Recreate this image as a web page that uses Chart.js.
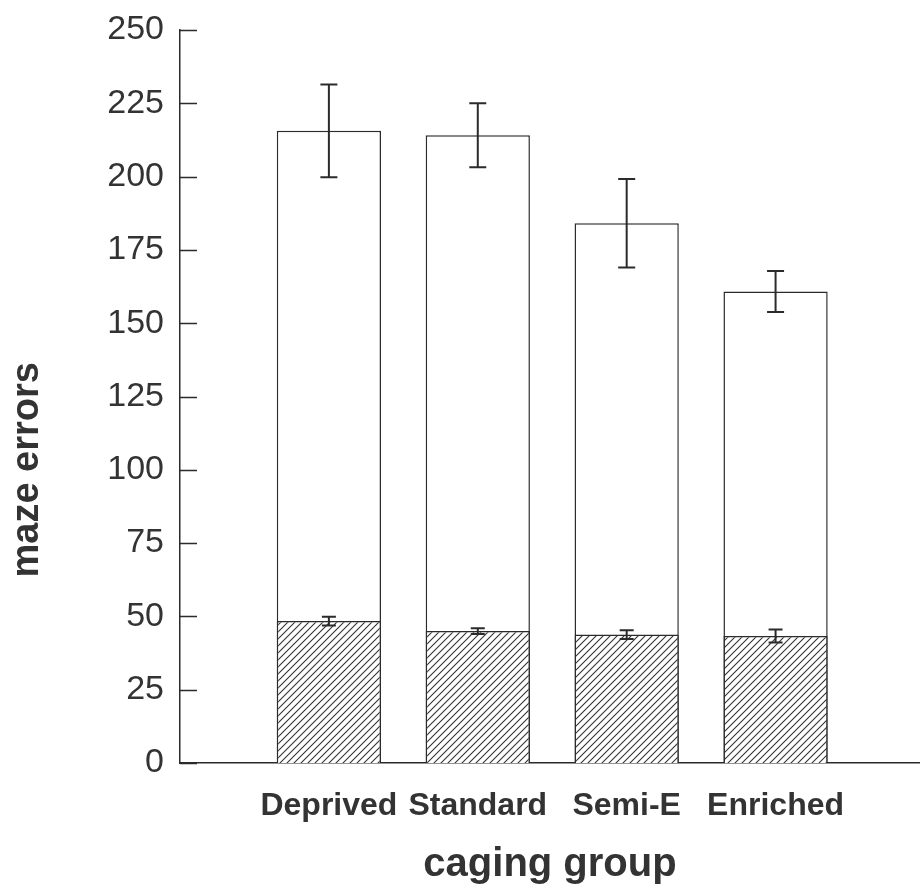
<!DOCTYPE html>
<html>
<head>
<meta charset="utf-8">
<script src="https://cdn.jsdelivr.net/npm/chart.js@4.4.1/dist/chart.umd.min.js"></script>
<style>
  html, body { margin: 0; padding: 0; background: #fff; }
  #wrap { width: 920px; height: 891px; position: relative; }
</style>
</head>
<body>
<div id="wrap"><canvas id="c" width="920" height="891"></canvas></div>
<script>
// Caging groups along the x axis
const groups = ['Deprived', 'Standard', 'Semi-E', 'Enriched'];
// Total maze errors per group (open bars) and their error-bar half widths
const totalErrors = [215.6, 214.1, 184.1, 160.8];
const totalSem = [15.8, 10.9, 15.1, 7.0];
// Hatched portion of the errors per group and its error-bar half widths
const hatchedErrors = [48.4, 45.0, 43.8, 43.3];
const hatchedSem = [1.5, 1.0, 1.5, 2.2];
// Y axis range and step
const yMin = 0, yMax = 250, yStep = 25;
const yTitle = 'maze errors';
const xTitle = 'caging group';

const ink = '#2b2b2b';
const textInk = '#333333';
const fontFamily = 'Liberation Sans, Arial, sans-serif';

// Diagonal hatch fill
function makeHatch() {
  const s = 7;
  const p = document.createElement('canvas');
  p.width = s; p.height = s;
  const g = p.getContext('2d');
  g.fillStyle = '#ffffff';
  g.fillRect(0, 0, s, s);
  g.strokeStyle = '#333333';
  g.lineWidth = 1.1;
  g.beginPath();
  g.moveTo(-1, s + 1); g.lineTo(s + 1, -1);
  g.moveTo(-1, 1); g.lineTo(1, -1);
  g.moveTo(s - 1, s + 1); g.lineTo(s + 1, s - 1);
  g.stroke();
  return g.createPattern(p, 'repeat');
}

const pts = (vals) => vals.map((v, i) => ({ x: i + 1, y: v }));

// Error bars with caps, drawn over the bars
const errorBars = {
  id: 'errorBars',
  afterDatasetsDraw(chart) {
    const ctx = chart.ctx;
    const ys = chart.scales.y;
    ctx.save();
    ctx.strokeStyle = ink;
    ctx.lineWidth = 2;
    chart.data.datasets.forEach((ds, di) => {
      const meta = chart.getDatasetMeta(di);
      meta.data.forEach((bar, i) => {
        const v = ds.data[i].y;
        const e = ds.errors[i];
        const x = bar.x;
        const yTop = ys.getPixelForValue(v + e);
        const yBot = ys.getPixelForValue(v - e);
        const half = ds.capHalf;
        ctx.beginPath();
        ctx.moveTo(x, yTop); ctx.lineTo(x, yBot);
        ctx.moveTo(x - half, yTop); ctx.lineTo(x + half, yTop);
        ctx.moveTo(x - half, yBot); ctx.lineTo(x + half, yBot);
        ctx.stroke();
      });
    });
    ctx.restore();
  }
};

// Tick marks on the inner side of the y axis, and the rotated y title
const yAxisDecor = {
  id: 'yAxisDecor',
  afterDraw(chart) {
    const ctx = chart.ctx;
    const ys = chart.scales.y;
    const area = chart.chartArea;
    ctx.save();
    ctx.strokeStyle = ink;
    ctx.lineWidth = 1.5;
    ctx.beginPath();
    for (let v = yMin; v <= yMax; v += yStep) {
      const y = Math.round(ys.getPixelForValue(v)) + 0.5;
      ctx.moveTo(area.left, y); ctx.lineTo(area.left + 17, y);
    }
    ctx.stroke();

    ctx.translate(area.left - 152, area.top + (area.bottom - area.top) * 0.6);
    ctx.rotate(-Math.PI / 2);
    ctx.fillStyle = textInk;
    ctx.font = 'bold 38px ' + fontFamily;
    ctx.textAlign = 'center';
    ctx.textBaseline = 'middle';
    ctx.fillText(yTitle, 0, 0);
    ctx.restore();
  }
};

new Chart(document.getElementById('c'), {
  type: 'bar',
  data: {
    datasets: [
      {
        label: 'hatched',
        data: pts(hatchedErrors),
        errors: hatchedSem,
        capHalf: 7,
        backgroundColor: makeHatch(),
        borderColor: ink,
        borderWidth: 1.5,
        grouped: false,
        barPercentage: 0.7,
        categoryPercentage: 1
      },
      {
        label: 'total',
        data: pts(totalErrors),
        errors: totalSem,
        capHalf: 8.5,
        backgroundColor: '#ffffff',
        borderColor: ink,
        borderWidth: 1.5,
        grouped: false,
        barPercentage: 0.7,
        categoryPercentage: 1
      }
    ]
  },
  options: {
    responsive: false,
    animation: false,
    events: [],
    layout: { padding: { top: 30, right: 0, bottom: 0, left: 6 } },
    plugins: { legend: { display: false }, tooltip: { enabled: false } },
    scales: {
      x: {
        type: 'linear',
        min: 0,
        max: 4.97,
        offset: false,
        grid: { display: false, drawTicks: false },
        border: { display: true, color: ink, width: 1.5 },
        ticks: {
          stepSize: 1,
          autoSkip: false,
          includeBounds: false,
          maxRotation: 0,
          padding: 24,
          color: textInk,
          font: { family: fontFamily, size: 32, weight: 'bold' },
          callback: (v) => groups[v - 1] || ''
        },
        title: {
          display: true,
          text: xTitle,
          color: textInk,
          font: { family: fontFamily, size: 40, weight: 'bold' },
          padding: { top: 20, bottom: 2 }
        },
        afterFit(scale) {
          scale.height = 128;
          scale.paddingLeft = 0;
          scale.paddingRight = 0;
        }
      },
      y: {
        min: yMin,
        max: yMax,
        grid: { display: false, drawTicks: false },
        border: { display: true, color: ink, width: 1.5 },
        ticks: {
          stepSize: yStep,
          padding: 16,
          color: textInk,
          font: { family: fontFamily, size: 34 }
        },
        title: { display: false },
        afterFit(scale) {
          scale.width = 174;
          scale.paddingTop = 0;
          scale.paddingBottom = 0;
        }
      }
    }
  },
  plugins: [errorBars, yAxisDecor]
});
</script>
</body>
</html>
